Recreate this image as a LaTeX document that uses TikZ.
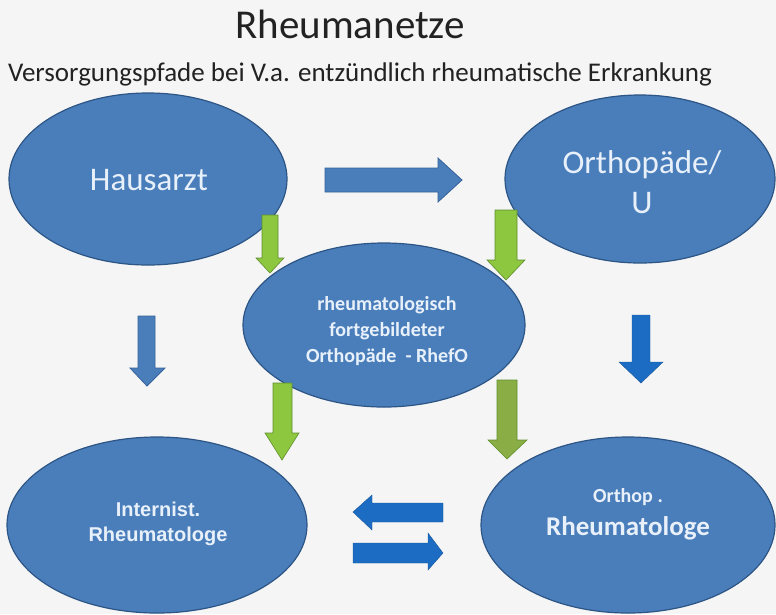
\documentclass[tikz,border=0pt]{standalone}
\usepackage{fontspec}
\setmainfont{Carlito}
\newfontfamily\calfont{Carlito}
\newfontfamily\arifont{Liberation Sans}
\usetikzlibrary{shapes.geometric}
\definecolor{bg}{HTML}{F5F5F5}
\definecolor{ellfill}{HTML}{4A7EBB}
\definecolor{elldraw}{HTML}{2C5585}
\definecolor{txtw}{HTML}{E8F0FA}
\definecolor{grn}{HTML}{8DC63F}
\definecolor{grndraw}{HTML}{5E8F2C}
\definecolor{olive}{HTML}{8AAE45}
\definecolor{blu}{HTML}{4A7EBB}
\definecolor{bludraw}{HTML}{35629A}
\definecolor{blub}{HTML}{1B6CC2}
\definecolor{titlec}{HTML}{222222}
\tikzset{
  ell/.style={ellipse, draw=elldraw, line width=1.2pt, fill=ellfill, inner sep=0pt},
  etxt/.style={text=txtw, align=center, inner sep=0pt},
  garr/.style={fill=grn, draw=grndraw, line width=0.6pt},
  oarr/.style={fill=olive, draw=grndraw, line width=0.6pt},
  barr/.style={fill=blu, draw=bludraw, line width=0.8pt},
  bbarr/.style={fill=blub, draw=blub!80!black, line width=0.4pt},
}
\begin{document}
\begin{tikzpicture}[x=1pt,y=-1pt]
\fill[bg] (0,0) rectangle (776,614);
\useasboundingbox (0,0) rectangle (776,614);
% titles
\node[text=titlec, inner sep=0pt, anchor=base, font=\fontsize{41}{44}\selectfont] (title) at (350,38) {Rheumanetze};
\node[text=titlec, inner sep=0pt, anchor=base, font=\fontsize{27}{30}\selectfont] (sub) at (360,81) {Versorgungspfade bei V.a. entzündlich rheumatische Erkrankung};
% ellipses
\node[ell, minimum width=278pt, minimum height=172pt] (haus) at (148,179) {};
\node[ell, minimum width=270pt, minimum height=168pt] (orth) at (640,179) {};
\node[ell, minimum width=282pt, minimum height=164pt] (rhefo) at (384,325) {};
\node[ell, minimum width=300pt, minimum height=176pt] (intern) at (157,525) {};
\node[ell, minimum width=294pt, minimum height=176pt] (orheu) at (628,525) {};
% texts
\node[etxt, font=\fontsize{33}{36}\selectfont] (thaus) at (149,180) {Hausarzt};
\node[etxt, font=\fontsize{33}{40}\selectfont] (torth) at (642,182) {Orthopäde/\\U};
\node[etxt, font=\fontsize{20}{26}\selectfont\bfseries] (trhefo) at (387,331) {rheumatologisch\\fortgebildeter\\Orthopäde\ \ - RhefO};
\node[etxt, font=\arifont\fontsize{20}{25}\selectfont\bfseries] (tintern) at (158,524) {Internist.\\Rheumatologe};
\node[etxt, font=\fontsize{27}{33}\selectfont\bfseries] (torheu) at (628,514) {{\fontsize{20}{24}\selectfont Orthop .}\\Rheumatologe};
% blue right arrow
\draw[barr] (325,168) -- (438,168) -- (438,158) -- (462,180) -- (438,202) -- (438,192) -- (325,192) -- cycle;
% green arrows
\draw[garr] (262,215) -- (278,215) -- (278,258) -- (284,258) -- (270,273) -- (256,258) -- (262,258) -- cycle;
\draw[garr] (495,210) -- (517,210) -- (517,260) -- (525,260) -- (506,280) -- (487,260) -- (495,260) -- cycle;
\draw[garr] (273,383) -- (292,383) -- (292,433) -- (299,433) -- (282,460) -- (265,433) -- (273,433) -- cycle;
\draw[oarr] (497,380) -- (517,380) -- (517,440) -- (527,440) -- (507,459) -- (488,440) -- (497,440) -- cycle;
% blue down arrows
\draw[barr] (138,316) -- (155,316) -- (155,368) -- (165,368) -- (147,386) -- (130,368) -- (138,368) -- cycle;
\draw[bbarr] (632,315) -- (650,315) -- (650,362) -- (663,362) -- (641,383) -- (619,362) -- (632,362) -- cycle;
% bottom arrows
\draw[bbarr] (443,503) -- (372,503) -- (372,495) -- (353,512) -- (372,530) -- (372,522) -- (443,522) -- cycle;
\draw[bbarr] (353,543) -- (428,543) -- (428,533) -- (443,553) -- (428,570) -- (428,563) -- (353,563) -- cycle;
\end{tikzpicture}
\end{document}
